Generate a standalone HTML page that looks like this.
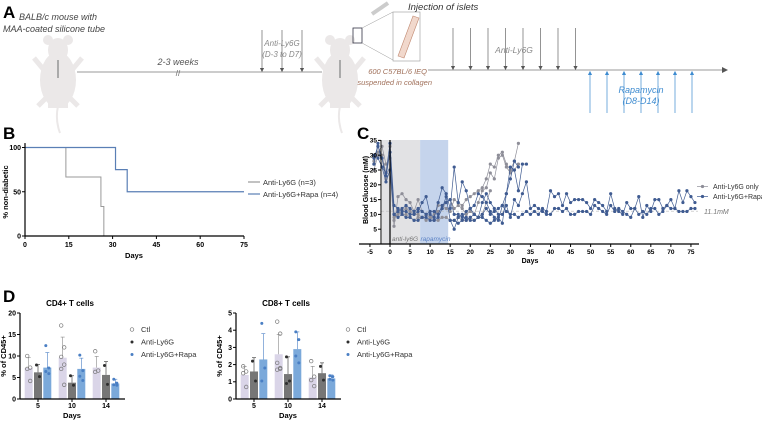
<!DOCTYPE html>
<html><head><meta charset="utf-8"><style>
body{margin:0;background:#fff;}
svg{display:block;font-family:"Liberation Sans",Arial,sans-serif;}
</style></head><body>
<svg id="fig" width="762" height="423" viewBox="0 0 762 423">
<defs>
<marker id="ah" markerWidth="6" markerHeight="6" refX="3" refY="3" orient="auto"><path d="M0,0 L6,3 L0,6 z" fill="#555"/></marker>
<marker id="ahb" markerWidth="6" markerHeight="6" refX="3" refY="3" orient="auto"><path d="M0,0 L6,3 L0,6 z" fill="#3d8bd0"/></marker>
</defs>
<!-- Panel A -->
<g>
<text x="3" y="18" font-size="17" font-weight="bold">A</text>
<text x="19" y="20" font-size="9" font-style="italic" fill="#444">BALB/c mouse with</text>
<text x="3" y="32" font-size="9" font-style="italic" fill="#444">MAA-coated silicone tube</text>
<g fill="#ebe8e8">
<ellipse cx="58" cy="50" rx="10" ry="12"/><ellipse cx="48" cy="40" rx="5" ry="5"/><ellipse cx="68" cy="40" rx="5" ry="5"/>
<ellipse cx="58" cy="80" rx="18" ry="28"/><rect x="48" y="100" width="20" height="8"/>
<path d="M44,70 L34,58 M72,70 L82,58 M46,98 L38,106 M70,98 L78,106" stroke="#ebe8e8" stroke-width="5"/>
<path d="M58,106 Q55,120 60,133" stroke="#ebe8e8" stroke-width="2" fill="none"/>
<rect x="57" y="60" width="2" height="18" fill="#aaa"/>
</g>
<g fill="#ebe8e8">
<ellipse cx="340" cy="50" rx="10" ry="12"/><ellipse cx="330" cy="40" rx="5" ry="5"/><ellipse cx="350" cy="40" rx="5" ry="5"/>
<ellipse cx="340" cy="80" rx="18" ry="28"/><rect x="330" y="100" width="20" height="8"/>
<path d="M326,70 L316,58 M354,70 L364,58 M328,98 L320,106 M352,98 L360,106" stroke="#ebe8e8" stroke-width="5"/>
<path d="M340,106 Q337,120 342,133" stroke="#ebe8e8" stroke-width="2" fill="none"/>
<rect x="339" y="60" width="2" height="18" fill="#aaa"/>
</g>
<line x1="77" y1="72" x2="322" y2="72" stroke="#999" stroke-width="1"/>
<text x="178" y="65" font-size="9" font-style="italic" fill="#555" text-anchor="middle">2-3 weeks</text>
<text x="178" y="76" font-size="8" fill="#666" text-anchor="middle">//</text>
<g stroke="#666" stroke-width="0.7">
<line x1="262" y1="30" x2="262" y2="70" marker-end="url(#ah)"/><line x1="282" y1="30" x2="282" y2="70" marker-end="url(#ah)"/><line x1="302" y1="30" x2="302" y2="70" marker-end="url(#ah)"/>
</g>
<text x="282" y="46" font-size="8" font-style="italic" fill="#888" text-anchor="middle">Anti-Ly6G</text>
<text x="282" y="57" font-size="8" font-style="italic" fill="#888" text-anchor="middle">(D-3 to D7)</text>
<rect x="353" y="28" width="9" height="15" fill="none" stroke="#334" stroke-width="0.8"/>
<path d="M362,28 L393,12 M362,43 L393,60" stroke="#999" stroke-width="0.5"/>
<rect x="393" y="12" width="27" height="49" fill="#fff" stroke="#999" stroke-width="0.6"/>
<path d="M398,56 L413,16 L419,18 L404,58 z" fill="#f1d8cc" stroke="#c08870" stroke-width="0.6"/>
<path d="M372,14 L388,3" stroke="#ccc" stroke-width="4"/>
<text x="408" y="10" font-size="9.5" font-style="italic" fill="#333">Injection of islets</text>
<text x="427" y="74" font-size="7.5" font-style="italic" fill="#a0705a" text-anchor="end">600 C57BL/6 IEQ</text>
<text x="432" y="85" font-size="7.5" font-style="italic" fill="#a0705a" text-anchor="end">suspended in collagen</text>
<line x1="428" y1="70" x2="725" y2="70" stroke="#999" stroke-width="1" marker-end="url(#ah)"/>
<g id="postDown" stroke="#666" stroke-width="0.7"></g>
<text x="514" y="53" font-size="8.5" font-style="italic" fill="#888" text-anchor="middle">Anti-Ly6G</text>
<g id="rapaUp" stroke="#3d8bd0" stroke-width="0.7"></g>
<text x="641" y="93" font-size="9" font-style="italic" fill="#3d8bd0" text-anchor="middle">Rapamycin</text>
<text x="641" y="104" font-size="9" font-style="italic" fill="#3d8bd0" text-anchor="middle">(D8-D14)</text>
</g>
<g id="panelB">
<text x="3" y="139" font-size="17" font-weight="bold">B</text>
</g>
<g id="panelC">
<text x="357" y="139" font-size="17" font-weight="bold">C</text>
</g>
<g id="panelD">
<text x="3" y="302" font-size="17" font-weight="bold">D</text>
</g>
</svg>
<script>
const NS="http://www.w3.org/2000/svg";
function mk(p,t,a,txt){const e=document.createElementNS(NS,t);for(const k in a)e.setAttribute(k,a[k]);if(txt!==undefined)e.textContent=txt;p.appendChild(e);return e;}

const antiDoseIdx=[0,1,2,3,4,5,6,7];
const rapaDoseIdx=[0,1,2,3,4,5,6];
const pd=document.getElementById('postDown');
antiDoseIdx.forEach(i=>{const x=453+i*17.5;const l=mk(pd,'line',{x1:x,y1:28,x2:x,y2:68,'marker-end':'url(#ah)'});

});
const ru=document.getElementById('rapaUp');
rapaDoseIdx.forEach(i=>{const x=590+i*17;const l=mk(ru,'line',{x1:x,y1:113,x2:x,y2:73,'marker-end':'url(#ahb)'});

});

// ---- Panel B data ----
const survDaysLy6g=[0,14,26,27];
const survValsLy6g=[100,66.7,33.3,0];
const survDaysRapa=[0,31,35,75];
const survValsRapa=[100,75,50,50];
const survXTicks=[0,15,30,45,60,75];
const survYTicks=[0,50,100];
(function(){
 const g=document.getElementById('panelB');
 const bx=v=>25+v*(219/75), by=v=>236-v*0.885;
 function step(days,vals){let d='M'+bx(days[0])+','+by(vals[0]);for(let i=1;i<days.length;i++){d+=' H'+bx(days[i])+' V'+by(vals[i]);}return d;}
 const a=mk(g,'path',{d:step(survDaysLy6g,survValsLy6g),fill:'none',stroke:'#9a9a9a','stroke-width':1});
 
 
 const b=mk(g,'path',{d:step(survDaysRapa,survValsRapa),fill:'none',stroke:'#5a7fb5','stroke-width':1.2});
 
 
 mk(g,'line',{x1:25,y1:by(105),x2:25,y2:236,stroke:'#000','stroke-width':1.2});
 mk(g,'line',{x1:25,y1:236,x2:bx(75),y2:236,stroke:'#000','stroke-width':1.2});
 survXTicks.forEach(t=>{mk(g,'line',{x1:bx(t),y1:236,x2:bx(t),y2:239,stroke:'#000'});const e=mk(g,'text',{x:bx(t),y:247,'font-size':7,'font-weight':'bold','text-anchor':'middle'},t);
  
  });
 survYTicks.forEach(t=>{mk(g,'line',{x1:22,y1:by(t),x2:25,y2:by(t),stroke:'#000'});const e=mk(g,'text',{x:21,y:by(t)+2.5,'font-size':7,'font-weight':'bold','text-anchor':'end'},t);
  
  });
 const yt=mk(g,'text',{x:8,y:192,'font-size':7.5,'font-weight':'bold','text-anchor':'middle',transform:'rotate(-90 8 192)'},'% non-diabetic');
 
 
 const xt=mk(g,'text',{x:134,y:258,'font-size':7.5,'font-weight':'bold','text-anchor':'middle'},'Days');
 
 
 [['Anti-Ly6G (n=3)','#9a9a9a',185],['Anti-Ly6G+Rapa (n=4)','#5a7fb5',197]].forEach(([t,c,y])=>{
  const l=mk(g,'line',{x1:248,y1:y-3,x2:260,y2:y-3,stroke:c,'stroke-width':1.2});
  
  
  const e=mk(g,'text',{x:263,y:y,'font-size':7.5,fill:'#333'},t);
  
  });
})();

// ---- Panel C data ----
const glucXTicks=[-5,0,5,10,15,20,25,30,35,40,45,50,55,60,65,70,75];
const glucYTicks=[5,10,15,20,25,30,35];
const g1Start=-4;
const g1Vals=[27,33,30,24,25,6,16,17,15,14,11,15,11,10,9,9,13,13,12,11,15,14,13,15,16,17,18,19,22,27,26,30,31,27,25,28,34];
const g2Start=-4;
const g2Vals=[25,30,29,22,33,9,10,11,12,11,10,10,9,10,9,10,11,12,14,15,12,13,12,10,11,10,14,18,19,24,22,29,30,26,24,25,27];
const g3Start=-4;
const g3Vals=[28,31,33,27,29,8,11,10,10,9,8,9,9,8,9,8,8,9,9,8,8,9,8,8,9,8,9,10,14,18];
const b1Start=-4;
const b1Vals=[27,34,26,24,34,13,12,11,11,10,10,11,14,16,10,9,14,19,17,12,26,14,21,18,12,10,9,14,17,14,12,10,10,13,9,15,13,17,21,12,13,12,11,10,10,12,12,11,12,10,10,11,11,11,10,13,12,11,10,13,11,12,11,10,9,12,10,11,10,12,12,10,11,13,12,12,11,11,11,12,12];
const b2Start=-4;
const b2Vals=[30,29,26,21,25,10,9,10,9,9,8,8,9,9,8,8,9,12,16,8,5,9,10,8,9,10,9,9,8,7,8,9,7,17,26,25,18,27,27];
const b3Start=-4;
const b3Vals=[29,33,29,23,31,10,11,12,13,12,11,12,11,10,11,11,10,13,14,15,10,10,9,11,12,13,17,16,14,11,9,8,13,17,22,28,26];
const b4Start=15;
const b4Vals=[8,8,7,8,9,8,8,9,10,12,10,11,12,13,11,10,10,9,10,11,10,11,10,12,11,18,16,17,13,17,14,15,15,15,14,12,15,14,13,11,17,12,11,10,14,12,12,16,9,13,11,15,15,12,13,15,12,18,14,18,16,14];
(function(){
 const g=document.getElementById('panelC');
 const cx=v=>390+v*4.0125, cy=v=>244-v*2.96;
 const AX=381;
 const sg=mk(g,'rect',{x:cx(-2),y:140,width:cx(7.5)-cx(-2),height:104,fill:'#e2e2e4'});
 
 
 const sb=mk(g,'rect',{x:cx(7.5),y:140,width:cx(14.5)-cx(7.5),height:104,fill:'#c5d4ec'});
 
 
 const th=mk(g,'line',{x1:AX,y1:cy(11.1),x2:698,y2:cy(11.1),stroke:'#bbb','stroke-width':0.6,'stroke-dasharray':'3,2'});
 
 
 const tl=mk(g,'text',{x:704,y:cy(11.1)+3,'font-size':7,'font-style':'italic',fill:'#777'},'11.1mM');
 
 
 const l1=mk(g,'text',{x:392,y:241,'font-size':6.5,'font-style':'italic',fill:'#777'},'anti-ly6G');
 
 
 const l2=mk(g,'text',{x:cx(7.6),y:241,'font-size':6.5,'font-style':'italic',fill:'#5b82c4'},'rapamycin');
 
 
 function series(start,vals,col,name){
  const pts=vals.map((v,i)=>[cx(start+i),cy(v)]);
  const p=mk(g,'polyline',{points:pts.map(q=>q.join(',')).join(' '),fill:'none',stroke:col,'stroke-width':0.7});
  
  
  pts.forEach(q=>{const c=mk(g,'circle',{cx:q[0],cy:q[1],r:1.6,fill:col});
   
   });
 }
 const G='#8e8e98',B='#3f5b91';
 series(g1Start,g1Vals,G,'anti-ly6g-mouse-1');
 series(g2Start,g2Vals,G,'anti-ly6g-mouse-2');
 series(g3Start,g3Vals,G,'anti-ly6g-mouse-3');
 series(b4Start,b4Vals,B,'rapa-mouse-4');
 series(b1Start,b1Vals,B,'rapa-mouse-1');
 series(b2Start,b2Vals,B,'rapa-mouse-2');
 series(b3Start,b3Vals,B,'rapa-mouse-3');
 mk(g,'line',{x1:AX,y1:140,x2:AX,y2:244,stroke:'#000','stroke-width':1});
 mk(g,'line',{x1:359,y1:244,x2:699,y2:244,stroke:'#000','stroke-width':1.2});
 mk(g,'line',{x1:cx(0),y1:140,x2:cx(0),y2:244,stroke:'#000','stroke-width':1.2});
 glucXTicks.forEach(t=>{mk(g,'line',{x1:cx(t),y1:244,x2:cx(t),y2:247,stroke:'#000'});const e=mk(g,'text',{x:cx(t),y:254,'font-size':6.5,'font-weight':'bold','text-anchor':'middle'},t);
  
  });
 glucYTicks.forEach(t=>{mk(g,'line',{x1:AX-3,y1:cy(t),x2:AX,y2:cy(t),stroke:'#000'});const e=mk(g,'text',{x:AX-4,y:cy(t)+2.3,'font-size':6.5,'font-weight':'bold','text-anchor':'end'},t);
  
  });
 const yt=mk(g,'text',{x:368,y:190,'font-size':7,'font-weight':'bold','text-anchor':'middle',transform:'rotate(-90 368 190)'},'Blood Glucose (mM)');
 
 
 const xt=mk(g,'text',{x:530,y:263,'font-size':7,'font-weight':'bold','text-anchor':'middle'},'Days');
 
 
 [['Anti-Ly6G only',G,189],['Anti-Ly6G+Rapa',B,199]].forEach(([t,c,y])=>{
  mk(g,'line',{x1:697,y1:y-2.5,x2:708,y2:y-2.5,stroke:c,'stroke-width':0.7});
  const d=mk(g,'circle',{cx:702.5,cy:y-2.5,r:1.6,fill:c});
  
  
  const e=mk(g,'text',{x:713,y:y,'font-size':7,fill:'#333'},t);
  
  });
})();

// ---- Panel D data ----
const dayCats=['5','10','14'];
const cd4Ctl=[7.2,9.6,7.3], cd4Ly=[6.2,3.8,5.6], cd4Rapa=[7.3,7.0,3.6];
const cd4CtlSd=[2.4,4.8,2.6], cd4LySd=[1.8,1.6,3.1], cd4RapaSd=[3.5,2.5,1.0];
const cd4CtlPts=[[10,7.3,7,4.2],[17.1,12,9.8,8,7,3.3],[11.1,6.6,6.3]];
const cd4LyPts=[[7.9,5.2],[5.4,3.2],[7.8,3.4]];
const cd4RapaPts=[[12.4,7.2,6.4,5.9],[10.2,6.6,5.3,4.3],[4.6,3.7,3.3,3.2]];
const cd4YTicks=[0,5,10,15,20];
const cd8Ctl=[1.4,2.6,1.25], cd8Ly=[1.6,1.45,1.5], cd8Rapa=[2.3,2.9,1.2];
const cd8CtlSd=[0.5,1.15,0.65], cd8LySd=[0.8,1.0,0.6], cd8RapaSd=[1.5,1.0,0.2];
const cd8CtlPts=[[1.9,1.6,1.5,0.7],[4.5,3.8,2.1,1.8,1.7,1.75],[2.2,1.3,1.1,0.75]];
const cd8LyPts=[[2.2,1.05],[2.45,1.05,0.9],[1.9,1.1]];
const cd8RapaPts=[[4.4,1.8,1.05],[3.9,3.45,2.5,2.1],[1.35,1.3,1.15,1.1]];
const cd8YTicks=[0,1,2,3,4,5];
(function(){
 const g=document.getElementById('panelD');
 function panel(ox,max,ticks,title,bars,sds,pts,tag){
  const y0=399,y1=313;const sy=v=>y0-v*(y0-y1)/max;
  const colors=['#dad5e8','#767676','#7ba9da'];
  const pcol=['#888','#2e2e2e','#4a7fc4'];
  const tt=mk(g,'text',{x:ox+50,y:306,'font-size':8,'font-weight':'bold','text-anchor':'middle'},title);
  
  
  dayCats.forEach((c,i)=>{
   const gc=ox+18+i*34;
   [0,1,2].forEach(k=>{
    const x=gc+(k-1)*9.3-4;
    const v=bars[k][i];
    const r=mk(g,'rect',{x:x,y:sy(v),width:8,height:y0-sy(v),fill:colors[k]});
    
    
    const sd=sds[k][i];
    mk(g,'line',{x1:x+4,y1:sy(v),x2:x+4,y2:sy(v+sd),stroke:pcol[k],'stroke-width':0.6});
    mk(g,'line',{x1:x+2,y1:sy(v+sd),x2:x+6,y2:sy(v+sd),stroke:pcol[k],'stroke-width':0.6});
    pts[k][i].forEach((p,j)=>{
     const jx=x+4+((j%2)?1.5:-1.5);
     const cc=k===0?mk(g,'circle',{cx:jx,cy:sy(p),r:1.8,fill:'none',stroke:'#777','stroke-width':0.7}):mk(g,'circle',{cx:jx,cy:sy(p),r:1.5,fill:pcol[k]});
     
     
    });
   });
   mk(g,'line',{x1:gc,y1:y0,x2:gc,y2:y0+3,stroke:'#000'});
   const e=mk(g,'text',{x:gc,y:408,'font-size':7,'font-weight':'bold','text-anchor':'middle'},c);
   
   
  });
  mk(g,'line',{x1:ox,y1:y1,x2:ox,y2:y0,stroke:'#000','stroke-width':1.2});
  mk(g,'line',{x1:ox,y1:y0,x2:ox+105,y2:y0,stroke:'#000','stroke-width':1.2});
  ticks.forEach(t=>{mk(g,'line',{x1:ox-3,y1:sy(t),x2:ox,y2:sy(t),stroke:'#000'});const e=mk(g,'text',{x:ox-4,y:sy(t)+2.4,'font-size':7,'font-weight':'bold','text-anchor':'end'},t);
   
   });
  const yt=mk(g,'text',{x:ox-14,y:356,'font-size':7.5,'font-weight':'bold','text-anchor':'middle',transform:'rotate(-90 '+(ox-14)+' 356)'},'% of CD45+');
  
  
  const xt=mk(g,'text',{x:ox+52,y:418,'font-size':7.5,'font-weight':'bold','text-anchor':'middle'},'Days');
  
  
  const leg=[['Ctl',0],['Anti-Ly6G',1],['Anti-Ly6G+Rapa',2]];
  leg.forEach(([t,k],j)=>{const ly=332+j*12.5;const lx=ox+112;
   const m=k===0?mk(g,'circle',{cx:lx,cy:ly-2.5,r:1.8,fill:'none',stroke:'#777','stroke-width':0.7}):mk(g,'circle',{cx:lx,cy:ly-2.5,r:1.5,fill:pcol[k]});
   
   
   const e=mk(g,'text',{x:lx+9,y:ly,'font-size':7.5,fill:'#333'},t);
   
   });
 }
 panel(20,20,cd4YTicks,'CD4+ T cells',[cd4Ctl,cd4Ly,cd4Rapa],[cd4CtlSd,cd4LySd,cd4RapaSd],[cd4CtlPts,cd4LyPts,cd4RapaPts],'cd4');
 panel(236,5,cd8YTicks,'CD8+ T cells',[cd8Ctl,cd8Ly,cd8Rapa],[cd8CtlSd,cd8LySd,cd8RapaSd],[cd8CtlPts,cd8LyPts,cd8RapaPts],'cd8');
})();
</script>
</body></html>
